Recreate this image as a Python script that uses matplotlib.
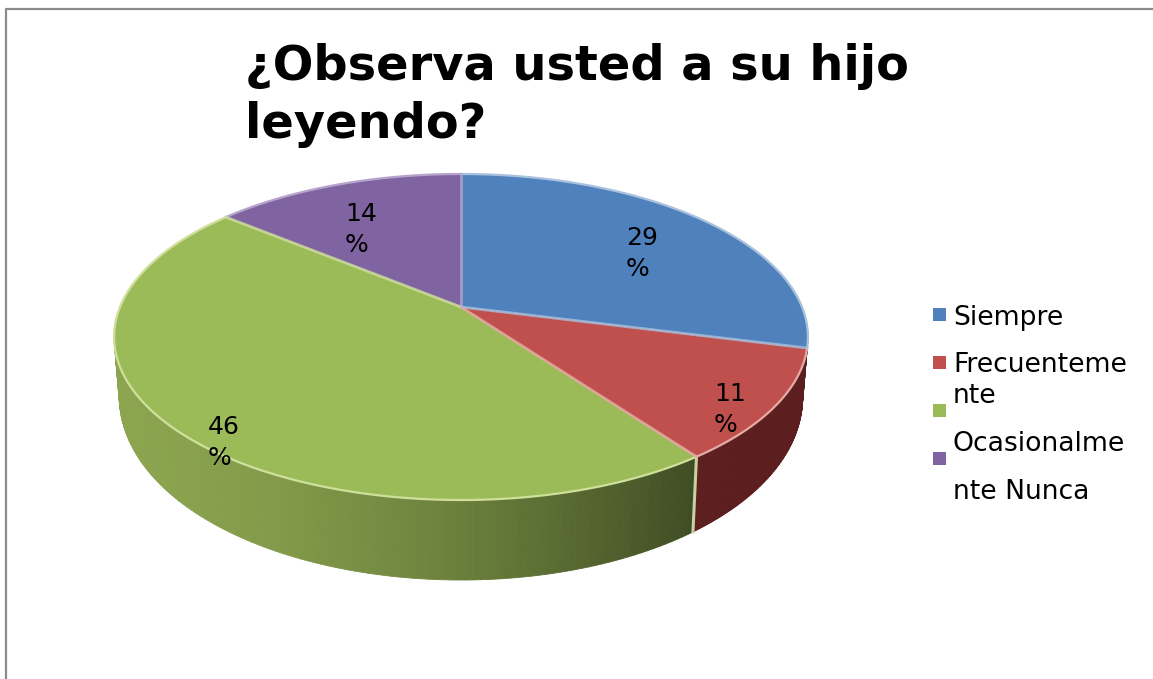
# Pie chart with a 3D look, redrawn in pixel coordinates
import numpy as np
import matplotlib
matplotlib.use("Agg")
import matplotlib.pyplot as plt
from matplotlib.patches import Polygon, Rectangle

plt.rcParams["font.family"] = ["DejaVu Sans"]

# Chart data
categories = ["Siempre", "Frecuentemente", "Ocasionalmente", "Nunca"]
values = [29, 11, 46, 14]
title_lines = ["¿Observa usted a su hijo", "leyendo?"]
legend_lines = ["Siempre", "Frecuenteme", "nte", "Ocasionalme", "nte Nunca"]

# Styles
top_colors = ["#4f81bd", "#c0504d", "#9bbb59", "#8064a2"]
rim_colors = ["#a9c0de", "#e6a9a3", "#cfe09b", "#b6a4cc"]
side_left = ["#2c4a70", "#571c1c", "#8ba44e", "#4a3a60"]
side_right = ["#2c4a70", "#5c1e1e", "#3c4a22", "#4a3a60"]
label_pos = [(626, 238), (714, 394), (208, 427), (345, 214)]

# Projection of the unit disc
center_x, center_y = 461, 307
half_w, half_h, tilt = 341, 157.5, 0.184


def project_top(t):
    u, v = np.cos(t), -np.sin(t)
    den = 1 - tilt * v
    return center_x + half_w * u / den, center_y + half_h * v / den


def project_bottom(t):
    x, y = project_top(t)
    return center_x + (x - center_x) * 0.985, y + 55 + 25 * (-np.sin(t))


def arc(theta1, theta2, n=120):
    return np.radians(np.linspace(theta1, theta2, n))


fig = plt.figure(figsize=(11.53, 6.79), dpi=100)
ax = fig.add_axes([0, 0, 1, 1])
wedges, _ = ax.pie(values, startangle=90, counterclock=False)
ax.set_aspect("auto")
ax.set_xlim(0, 1153)
ax.set_ylim(679, 0)
ax.axis("off")

# Chart frame
ax.plot([5.5, 5.5, 1153], [679, 8.5, 8.5], color="#8c8c8c", lw=1.6)

# Side walls, cut in thin strips for the shading
for i, w in enumerate(wedges):
    w.set_visible(False)
    t = arc(w.theta1, w.theta2, 160)
    xt, yt = project_top(t)
    xb, yb = project_bottom(t)
    c0 = np.array(matplotlib.colors.to_rgb(side_left[i]))
    c1 = np.array(matplotlib.colors.to_rgb(side_right[i]))
    for j in range(len(t) - 1):
        if np.sin(t[j]) > 0.15:
            continue
        f = np.clip((xt[j] - 120) / 585, 0, 1)
        if i == 2:
            f = f**1.6
        quad = [(xt[j], yt[j]), (xt[j + 1], yt[j + 1]), (xb[j + 1], yb[j + 1]), (xb[j], yb[j])]
        ax.add_patch(Polygon(quad, fc=c0 + (c1 - c0) * f, ec=c0 + (c1 - c0) * f, lw=0.6))

# Seam between the green and red walls
seam = np.radians(wedges[1].theta1)
sx, sy = project_top(seam)
bx, by = project_bottom(seam)
ax.plot([sx, bx], [sy, by], color="#c9cf9f", lw=2.2)

# Top surface
for i, w in enumerate(wedges):
    t = arc(w.theta1, w.theta2)
    xt, yt = project_top(t)
    pts = np.column_stack([np.r_[center_x, xt], np.r_[center_y, yt]])
    ax.add_patch(Polygon(pts, fc=top_colors[i], ec="none"))
    ax.plot(xt, yt, color=rim_colors[i], lw=1.6, solid_capstyle="round")
for i, w in enumerate(wedges):
    x, y = project_top(np.radians(w.theta1))
    ax.plot([center_x, x], [center_y, y], color=rim_colors[i], lw=2, alpha=0.8)

# Slice labels
for val, (x, y) in zip(values, label_pos):
    ax.text(x, y, str(val), fontsize=18, va="center", ha="left", color="black")
    ax.text(x, y + 31, "%", fontsize=18, va="center", ha="left", color="black")

# Title
for line, y in zip(title_lines, [67, 124]):
    ax.text(245, y, line, fontsize=34.5, fontweight="bold", va="center", ha="left", color="black")

# Legend, keys do not line up with the wrapped text
for color, y in zip(top_colors, [314, 362, 410, 458]):
    ax.add_patch(Rectangle((932.5, y - 6.5), 13, 13, fc=color, ec="none"))
for line, y in zip(legend_lines, [318, 365, 396, 444, 492]):
    ax.text(953, y, line, fontsize=19.2, va="center", ha="left", color="black")

fig.savefig("out.png", dpi=100)
